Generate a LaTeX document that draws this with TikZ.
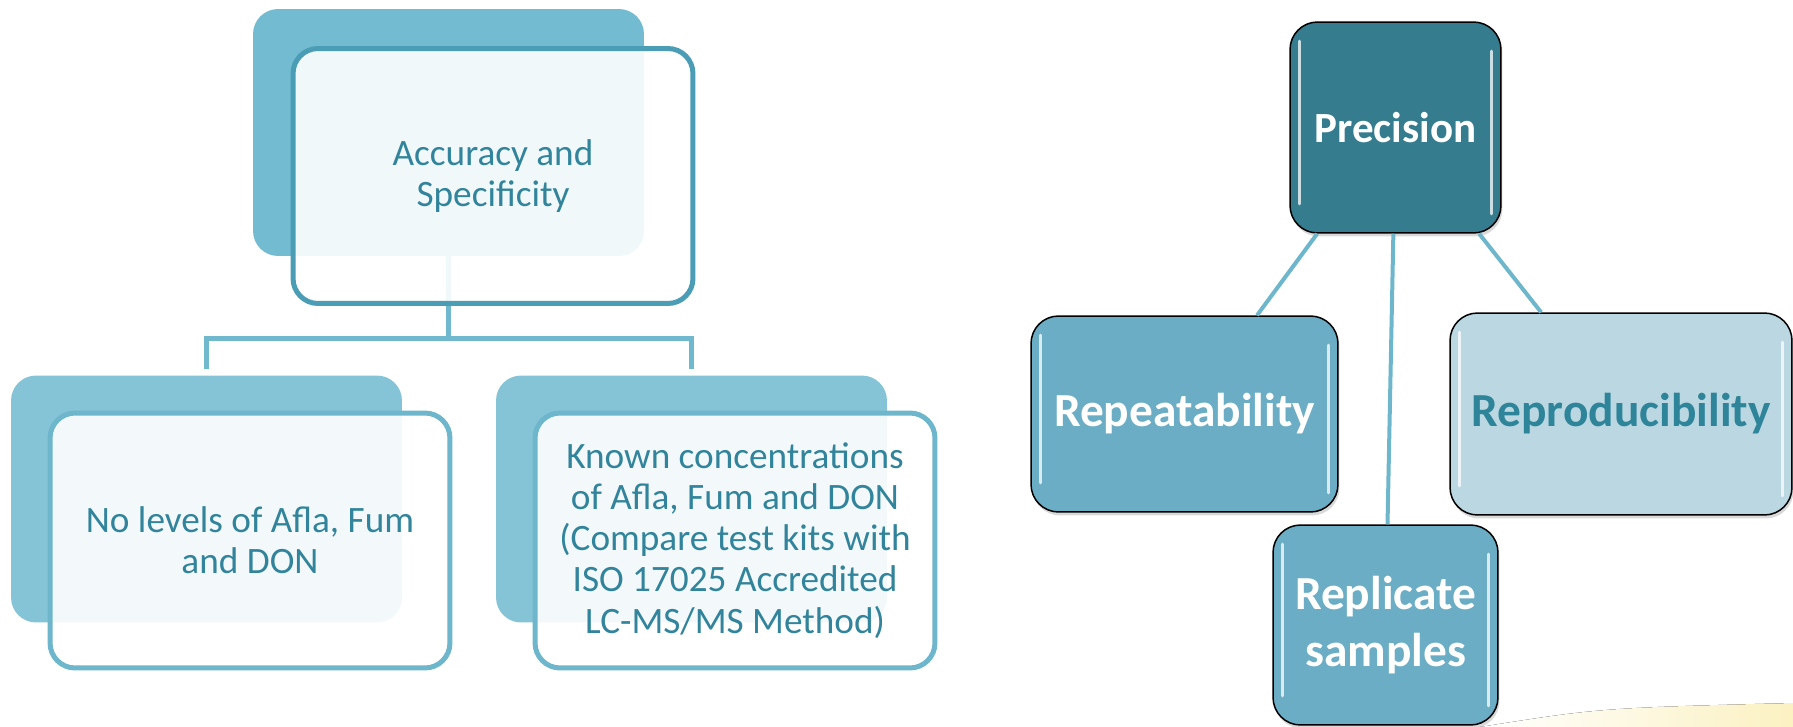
\documentclass[tikz,border=0pt]{standalone}
\usepackage{fontspec}
\setmainfont{Carlito}
\usetikzlibrary{positioning,shadows,backgrounds}
\definecolor{backtop}{HTML}{72BBD0}
\definecolor{backlow}{HTML}{85C4D6}
\definecolor{frametop}{HTML}{4A9DB5}
\definecolor{framelow}{HTML}{6DB6CC}
\definecolor{txtteal}{HTML}{31849B}
\definecolor{linkblue}{HTML}{70B8CE}
\definecolor{precfill}{HTML}{357C8F}
\definecolor{midfill}{HTML}{6AADC4}
\definecolor{palefill}{HTML}{BAD7E2}
\definecolor{reprotxt}{HTML}{2E8499}
\definecolor{glowyellow}{HTML}{FBF1C2}

\begin{document}
\begin{tikzpicture}[x=0.02cm,y=-0.02cm,
    backbox/.style={rounded corners=0.5cm,inner sep=0pt,minimum width=7.82cm,minimum height=4.94cm},
    frontbox/.style={draw,line width=0.1cm,rounded corners=0.5cm,fill=white,fill opacity=0.9,text opacity=1,
        text=txtteal,inner sep=0pt,minimum width=8cm,minimum height=5.1cm,align=center,
        font=\fontsize{21.2}{23.4}\selectfont},
    link/.style={draw=linkblue,line width=0.1cm},
    spoke/.style={draw=framelow,line width=0.08cm},
    cyclebox/.style={draw=black,line width=0.03cm,rounded corners=0.55cm,inner sep=0pt,text=white,align=center,
        font=\fontsize{27}{32}\selectfont\bfseries,
        drop shadow={opacity=0.3,shadow xshift=0.03cm,shadow yshift=-0.07cm}},
    gloss/.style={draw=white,draw opacity=0.75,line width=0.07cm,line cap=round}]
    \useasboundingbox (0,0) rectangle (1793,727);

    % Accuracy and Specificity
    \node[backbox,fill=backtop] (accb) at (448.5,132.5) {};
    \node[frontbox,draw=frametop] (accf) at (493,176) {Accuracy and\\Specificity};
    % No levels
    \node[backbox,fill=backlow] (nolevb) at (206.5,499) {};
    \node[frontbox,draw=framelow] (nolevf) at (250,540.5) {No levels of Afla, Fum\\and DON};
    % Known concentrations
    \node[backbox,fill=backlow] (knownb) at (691.5,499) {};
    \node[frontbox,draw=framelow] (knownf) at (735,540.5) {Known concentrations\\of Afla, Fum and DON\\(Compare test kits with\\ISO 17025 Accredited\\LC-MS/MS Method)};

    \begin{scope}[on background layer]
        \coordinate (split) at (448.5,338);
        \draw[link] (accb.south) -- (split) -| ([yshift=0.12cm]nolevb.north);
        \draw[link] (split) -| ([yshift=0.12cm]knownb.north);
        % glow
        \fill[left color=white,right color=glowyellow] (1480,727) .. controls (1600,708) .. (1793,703) -- (1793,727) -- cycle;
    \end{scope}

    % Precision
    \node[cyclebox,fill=precfill,minimum width=4.22cm,minimum height=4.22cm,font=\fontsize{24.5}{29.6}\selectfont\bfseries] (prec) at (1395.5,127.5) {Precision};
    \node[cyclebox,fill=midfill,minimum width=6.14cm,minimum height=3.92cm] (repeat) at (1184.5,414) {Repeatability};
    \node[cyclebox,fill=palefill,text=reprotxt,minimum width=6.84cm,minimum height=4.04cm] (repro) at (1621,414) {Reproducibility};
    \node[cyclebox,fill=midfill,minimum width=4.5cm,minimum height=4cm] (repl) at (1385.5,625) {Replicate\\samples};

    \draw[spoke] (prec) -- (repeat);
    \draw[spoke] (prec) -- (repro);
    \draw[spoke] (prec) -- (repl);

    \foreach \b in {prec,repeat,repro,repl} {
        \draw[gloss] ([xshift=0.2cm,yshift=-0.4cm]\b.north west) -- ([xshift=0.2cm,yshift=0.6cm]\b.south west);
        \draw[gloss] ([xshift=-0.2cm,yshift=-0.6cm]\b.north east) -- ([xshift=-0.2cm,yshift=0.4cm]\b.south east);
    }
\end{tikzpicture}
\end{document}
